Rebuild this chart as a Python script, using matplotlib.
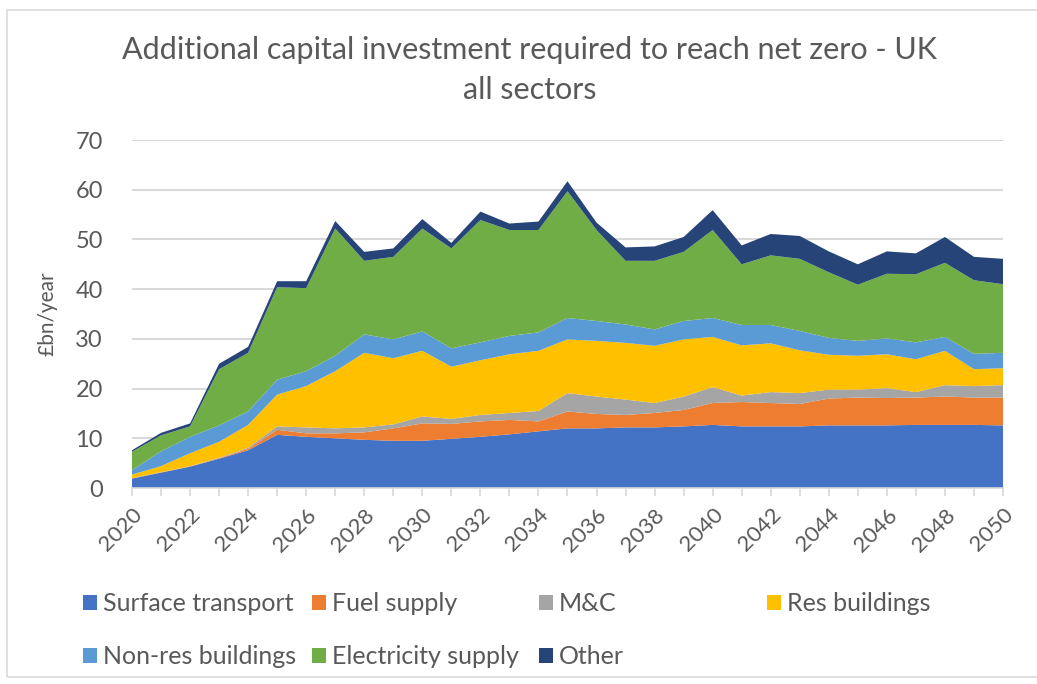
import numpy as np
import matplotlib.pyplot as plt
from matplotlib.patches import Rectangle
from matplotlib.ticker import MultipleLocator

plt.rcParams['font.family'] = ['Lato', 'DejaVu Sans']

years = list(range(2020, 2051))

surface_transport = [1.9, 3.1, 4.3, 5.9, 7.6, 10.7, 10.3, 10.0, 9.7, 9.5, 9.5, 9.9, 10.3, 10.8, 11.4, 12.0,
                     12.0, 12.2, 12.2, 12.4, 12.7, 12.4, 12.4, 12.4, 12.6, 12.6, 12.6, 12.7, 12.7, 12.7, 12.6]
fuel_supply = [0.05, 0.05, 0.05, 0.1, 0.3, 1.0, 0.7, 1.0, 1.5, 2.5, 3.5, 3.0, 3.1, 2.9, 2.0, 3.4,
               2.9, 2.5, 2.9, 3.3, 4.4, 4.9, 4.7, 4.5, 5.4, 5.6, 5.5, 5.5, 5.7, 5.5, 5.6]
m_and_c = [0.05, 0.05, 0.05, 0.1, 0.2, 0.7, 1.2, 1.0, 1.0, 0.8, 1.4, 1.0, 1.3, 1.4, 2.1, 3.7,
           3.5, 3.1, 2.0, 2.7, 3.2, 1.3, 2.2, 2.2, 1.8, 1.6, 2.0, 1.1, 2.3, 2.3, 2.5]
res_buildings = [0.7, 1.2, 2.6, 3.2, 4.6, 6.4, 8.3, 11.5, 15.0, 13.3, 13.2, 10.5, 11.0, 11.8, 12.1, 10.8,
                 11.2, 11.4, 11.5, 11.5, 10.1, 10.1, 9.8, 8.6, 7.0, 6.8, 6.8, 6.6, 6.9, 3.4, 3.4]
nonres_buildings = [0.9, 3.0, 3.3, 3.3, 2.7, 3.0, 3.0, 3.1, 3.7, 3.8, 3.9, 3.7, 3.6, 3.7, 3.7, 4.3,
                    4.0, 3.7, 3.3, 3.7, 3.8, 4.1, 3.7, 3.9, 3.4, 3.0, 3.2, 3.4, 2.8, 3.1, 3.1]
electricity_supply = [3.7, 3.2, 2.1, 11.3, 11.8, 18.6, 16.7, 25.6, 14.8, 16.6, 20.7, 20.1, 24.6, 21.3, 20.6, 25.5,
                      18.3, 12.8, 13.8, 13.9, 17.7, 12.2, 14.0, 14.5, 13.2, 11.3, 13.0, 13.7, 14.9, 14.8, 13.8]
other = [0.3, 0.5, 0.6, 1.1, 1.2, 1.2, 1.4, 1.5, 1.8, 1.7, 1.9, 1.1, 1.7, 1.3, 1.7, 2.0,
         1.5, 2.7, 2.9, 3.0, 4.0, 3.8, 4.3, 4.6, 4.2, 4.1, 4.5, 4.2, 5.2, 4.7, 5.1]

labels = ["Surface transport", "Fuel supply", "M&C", "Res buildings",
          "Non-res buildings", "Electricity supply", "Other"]
colors = ["#4472C4", "#ED7D31", "#A5A5A5", "#FFC000", "#5B9BD5", "#70AD47", "#264478"]

txt = "#595959"
grid = "#D9D9D9"

fig = plt.figure(figsize=(10.37, 6.84), dpi=100)
ax = fig.add_axes([0.1273, 0.2865, 0.8399, 0.5088])

polys = ax.stackplot(years, surface_transport, fuel_supply, m_and_c, res_buildings,
                     nonres_buildings, electricity_supply, other,
                     colors=colors, labels=labels, linewidth=0)

ax.set_xlim(2020, 2050)
ax.set_ylim(0, 70)
ax.yaxis.set_major_locator(MultipleLocator(10))
ax.xaxis.set_major_locator(MultipleLocator(2))
ax.xaxis.set_minor_locator(MultipleLocator(1))
ax.grid(axis='y', color=grid, linewidth=1.5)
ax.set_axisbelow(True)

for s in ['top', 'right', 'left']:
    ax.spines[s].set_visible(False)
ax.spines['bottom'].set_color(grid)
ax.spines['bottom'].set_linewidth(1.2)

ax.tick_params(axis='y', length=0, pad=21, labelsize=17, labelcolor=txt)
ax.tick_params(axis='x', which='both', length=6, color=grid, width=1.2,
               labelsize=16, labelcolor=txt, pad=6)
plt.setp(ax.get_xticklabels(), rotation=45, ha='right', va='top', rotation_mode='anchor')

ax.set_ylabel("£bn/year", fontsize=15, color=txt)
ax.yaxis.set_label_coords(-0.086, 0.5)

fig.text(0.511, 0.927, "Additional capital investment required to reach net zero - UK",
         ha='center', va='center', fontsize=22, color=txt)
fig.text(0.511, 0.868, "all sectors", ha='center', va='center', fontsize=22, color=txt)

# legend, one column per group like the Excel layout
cols = [(0.080, [0, 4]), (0.301, [1, 5]), (0.520, [2, 6]), (0.740, [3])]
for x, idx in cols:
    fig.legend([polys[i] for i in idx], [labels[i] for i in idx],
               loc='upper left', bbox_to_anchor=(x, 0.134), frameon=False,
               fontsize=18, labelcolor=txt, handlelength=0.55, handleheight=0.55,
               handletextpad=0.25, labelspacing=1.2, borderaxespad=0, borderpad=0)

fig.patches.append(Rectangle((0.007, 0.01), 1.2, 0.975, transform=fig.transFigure,
                             fill=False, edgecolor=grid, linewidth=1.2))

fig.savefig("out.png", dpi=100)
